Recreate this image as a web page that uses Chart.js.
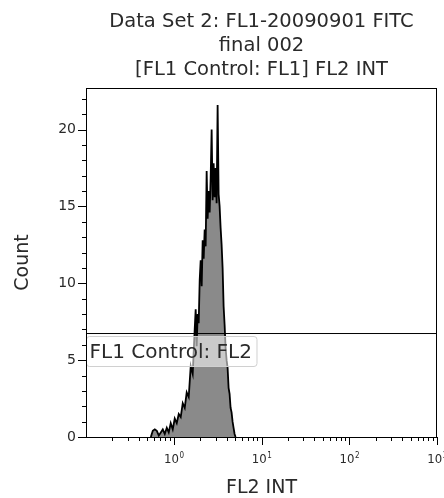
<!DOCTYPE html>
<html>
<head>
<meta charset="utf-8">
<script src="https://cdn.jsdelivr.net/npm/chart.js@4/dist/chart.umd.min.js"></script>
<style>
  html, body { margin: 0; padding: 0; background: #fff; }
  #wrap { width: 444px; height: 498px; }
</style>
</head>
<body>
<div id="wrap"><canvas id="histChart" width="444" height="498"></canvas></div>
<script>
// Histogram data (FL2 INT, log channel positions)
const binCenters = [
    0.548, 0.577, 0.608, 0.641, 0.675, 0.712, 0.750, 0.790, 0.833, 0.877,
    0.924, 0.974, 1.026, 1.082, 1.140, 1.201, 1.266, 1.334, 1.405, 1.481,
    1.561, 1.644, 1.733, 1.778, 1.825, 1.874, 1.924, 1.975, 2.027, 2.081,
    2.136, 2.193, 2.251, 2.310, 2.371, 2.434, 2.499, 2.565, 2.633, 2.703,
    2.774, 2.848, 2.923, 3.001, 3.080, 3.162, 3.246, 3.332, 3.420, 3.511,
    3.604, 3.700, 3.798, 3.898, 4.002, 4.108, 4.217, 4.329, 4.443, 4.561,
    4.682, 4.806, 4.934, 5.064
];
const counts = [
    0, 0.4, 0.5, 0.4, 0.1, 0.3, 0.5, 0.2, 0.6, 0.3,
    0.9, 0.5, 1.2, 0.9, 1.5, 1.3, 2.2, 1.9, 2.9, 2.6,
    4.6, 4.1, 7.0, 8.3, 5.9, 8.0, 7.4, 10.2, 11.5, 9.8,
    12.8, 11.6, 13.5, 12.4, 17.3, 14.2, 16.0, 14.6, 16.8, 20.0,
    15.4, 17.8, 15.6, 17.5, 15.2, 21.6, 15.8, 15.0, 13.6, 12.5,
    11.0, 8.5, 7.3, 5.8, 5.0, 4.5, 3.2, 2.8, 1.9, 1.6,
    1.0, 0.6, 0.2, 0
];

// Gate marker
const gateLevel = 6.73;
const gateLabel = 'FL1 Control: FL2';

// Axes
const xRange = [0.1, 1000];
const yRange = [0, 22.7];
const xTickValues = [
    0.2, 0.3, 0.4, 0.5, 0.6, 0.7, 0.8, 0.9, 1,
    2, 3, 4, 5, 6, 7, 8, 9, 10,
    20, 30, 40, 50, 60, 70, 80, 90, 100,
    200, 300, 400, 500, 600, 700, 800, 900, 1000
];
const xLabelValues = [1, 10, 100, 1000];
const xLabelExponents = ['0', '1', '2', '3'];
const yTickValues = [0, 1, 2, 3, 4, 5, 6, 7, 8, 9, 10, 11, 12, 13, 14, 15, 16, 17, 18, 19, 20, 21, 22];
const yLabelValues = [0, 5, 10, 15, 20];

const titleLines = ['Data Set 2: FL1-20090901 FITC', 'final 002', '[FL1 Control: FL1] FL2 INT'];
const xTitle = 'FL2 INT';
const yTitle = 'Count';

const FONT = '"DejaVu Sans", sans-serif';
const FONT_NARROW = '"DejaVu Sans Condensed", "DejaVu Sans", sans-serif';
const TEXT = '#2a2a2a';

// Draws the frame, ticks, labels and gate tag by hand
const decorPlugin = {
    id: 'decor',
    afterDatasetsDraw(chart) {
        const ctx = chart.ctx;
        const area = chart.chartArea;
        const ys = chart.scales.y;

        // gate tag
        ctx.save();
        ctx.font = '20px ' + FONT;
        const gy = ys.getPixelForValue(gateLevel);
        const tw = ctx.measureText(gateLabel).width;
        const bx = area.left + 0.5, by = Math.round(gy) + 2.5, bw = tw + 8, bh = 30;
        ctx.beginPath();
        ctx.roundRect(bx, by, bw, bh, 3);
        ctx.fillStyle = 'rgba(255,255,255,0.55)';
        ctx.fill();
        ctx.strokeStyle = '#d0d0d0';
        ctx.lineWidth = 1;
        ctx.stroke();
        ctx.fillStyle = TEXT;
        ctx.textBaseline = 'alphabetic';
        ctx.fillText(gateLabel, bx + 3, by + 21);
        ctx.restore();
    },
    afterDraw(chart) {
        const ctx = chart.ctx;
        const area = chart.chartArea;
        const xs = chart.scales.x;
        const ys = chart.scales.y;
        ctx.save();

        // frame
        ctx.strokeStyle = '#000';
        ctx.lineWidth = 1;
        ctx.strokeRect(area.left + 0.5, area.top + 0.5, area.right - area.left - 1, area.bottom - area.top);

        // y ticks
        ctx.beginPath();
        yTickValues.forEach(v => {
            const y = Math.round(ys.getPixelForValue(v)) + 0.5;
            const len = yLabelValues.includes(v) ? 8 : 4;
            ctx.moveTo(area.left, y);
            ctx.lineTo(area.left - len, y);
        });
        // x ticks
        xTickValues.forEach(v => {
            const x = Math.round(xs.getPixelForValue(v)) + 0.5;
            const len = xLabelValues.includes(v) ? 8 : 4;
            ctx.moveTo(x, area.bottom);
            ctx.lineTo(x, area.bottom + len);
        });
        ctx.stroke();

        // y labels
        ctx.fillStyle = TEXT;
        ctx.font = '14px ' + FONT;
        ctx.textAlign = 'right';
        ctx.textBaseline = 'middle';
        yLabelValues.forEach(v => {
            ctx.fillText(String(v), area.left - 10, ys.getPixelForValue(v));
        });

        // x labels: 10 with a raised exponent
        ctx.textBaseline = 'alphabetic';
        ctx.textAlign = 'left';
        xLabelValues.forEach((v, i) => {
            const x = xs.getPixelForValue(v);
            ctx.font = '13px ' + FONT_NARROW;
            const w1 = ctx.measureText('10').width;
            ctx.font = '8px ' + FONT_NARROW;
            const w2 = ctx.measureText(xLabelExponents[i]).width;
            const start = x - (w1 + w2) / 2;
            ctx.font = '13px ' + FONT_NARROW;
            ctx.fillText('10', start, area.bottom + 26);
            ctx.font = '8px ' + FONT_NARROW;
            ctx.fillText(xLabelExponents[i], start + w1 + 0.5, area.bottom + 21);
        });

        // axis titles
        ctx.font = '19px ' + FONT;
        ctx.textAlign = 'center';
        ctx.fillText(xTitle, (area.left + area.right) / 2, 493);
        ctx.save();
        ctx.translate(28, (area.top + area.bottom) / 2);
        ctx.rotate(-Math.PI / 2);
        ctx.fillText(yTitle, 0, 0);
        ctx.restore();

        // chart title
        ctx.font = '19.5px ' + FONT;
        const cx = (area.left + area.right) / 2;
        titleLines.forEach((line, i) => {
            ctx.fillText(line, cx, 27 + i * 24);
        });
        ctx.restore();
    }
};

const ctx = document.getElementById('histChart').getContext('2d');
new Chart(ctx, {
    type: 'line',
    data: {
        datasets: [
            {
                label: 'Count',
                data: binCenters.map((x, i) => ({ x: x, y: counts[i] })),
                borderColor: '#000',
                borderWidth: 1.8,
                backgroundColor: '#8a8a8a',
                fill: 'origin',
                pointRadius: 0,
                tension: 0,
                order: 2
            },
            {
                label: 'Gate',
                data: [{ x: xRange[0], y: gateLevel }, { x: xRange[1], y: gateLevel }],
                borderColor: '#000',
                borderWidth: 1,
                pointRadius: 0,
                fill: false,
                order: 1
            }
        ]
    },
    options: {
        responsive: false,
        animation: false,
        layout: { padding: { top: 88, right: 7, left: 0, bottom: 0 } },
        plugins: {
            legend: { display: false },
            title: { display: false },
            tooltip: { enabled: false }
        },
        scales: {
            x: {
                type: 'logarithmic',
                min: xRange[0],
                max: xRange[1],
                ticks: { display: false },
                grid: { display: false },
                border: { display: false },
                afterFit: s => { s.height = 61; }
            },
            y: {
                type: 'linear',
                min: yRange[0],
                max: yRange[1],
                ticks: { display: false },
                grid: { display: false },
                border: { display: false },
                afterFit: s => { s.width = 86; }
            }
        }
    },
    plugins: [decorPlugin]
});
</script>
</body>
</html>
